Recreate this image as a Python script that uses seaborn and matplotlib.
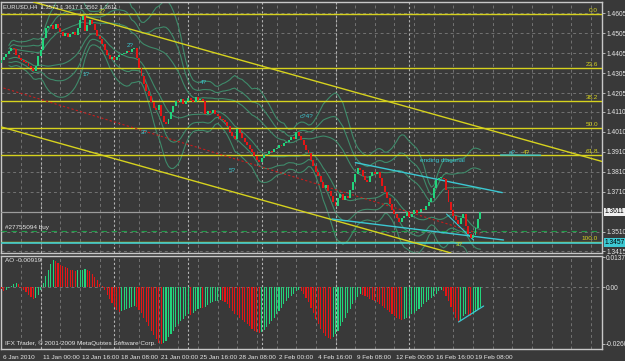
import numpy as np
import pandas as pd
import matplotlib
matplotlib.use("Agg")
import matplotlib.pyplot as plt
import matplotlib.transforms as mtrans
import seaborn as sns

# ---------------- data ----------------
close = [
    1.4370, 1.4385, 1.4400, 1.4415, 1.4430, 1.4425, 1.4395, 1.4380,
    1.4370, 1.4360, 1.4355, 1.4340, 1.4330, 1.4315,
    1.4340, 1.4390, 1.4420,
    1.4480, 1.4530, 1.4540,
    1.4545, 1.4525, 1.4550, 1.4530,
    1.4510, 1.4490, 1.4505, 1.4485, 1.4500, 1.4510, 1.4495,
    1.4530, 1.4570, 1.4590,
    1.4515,
    1.4545, 1.4570,
    1.4550, 1.4520, 1.4490, 1.4475,
    1.4450, 1.4420, 1.4395, 1.4375,
    1.4385, 1.4370, 1.4385, 1.4395,
    1.4400, 1.4405, 1.4415, 1.4410, 1.4425,
    1.4430,
    1.4380, 1.4330, 1.4290, 1.4250,
    1.4215, 1.4190, 1.4160, 1.4130,
    1.4120, 1.4145,
    1.4090, 1.4060, 1.4050, 1.4075,
    1.4110, 1.4140, 1.4165, 1.4160,
    1.4175, 1.4150, 1.4165, 1.4180, 1.4170, 1.4160, 1.4185, 1.4170, 1.4175, 1.4165,
    1.4100,
    1.4115, 1.4105, 1.4120, 1.4100, 1.4090, 1.4075, 1.4070, 1.4060,
    1.4040, 1.4010, 1.3990, 1.3975,
    1.4025, 1.4005,
    1.3980, 1.3960, 1.3945, 1.3925, 1.3910, 1.3890, 1.3870, 1.3860,
    1.3880, 1.3895, 1.3900, 1.3915, 1.3910, 1.3925, 1.3930, 1.3945,
    1.3940, 1.3955, 1.3960, 1.3970, 1.3985, 1.3975, 1.4010, 1.3990,
    1.3970, 1.3945, 1.3920, 1.3905,
    1.3870, 1.3840, 1.3810, 1.3790,
    1.3760, 1.3730, 1.3745, 1.3715, 1.3690, 1.3660,
    1.3640, 1.3680, 1.3700, 1.3670, 1.3690, 1.3680, 1.3720,
    1.3760, 1.3800, 1.3830, 1.3820,
    1.3790, 1.3770, 1.3760, 1.3790, 1.3810, 1.3800, 1.3810, 1.3780, 1.3740, 1.3710,
    1.3680, 1.3650, 1.3620, 1.3600, 1.3580, 1.3560, 1.3580,
    1.3590, 1.3610, 1.3585, 1.3600, 1.3620, 1.3605, 1.3610, 1.3625, 1.3620, 1.3640, 1.3660, 1.3680,
    1.3730, 1.3770, 1.3780,
    1.3780, 1.3775,
    1.3720, 1.3660, 1.3620,
    1.3590, 1.3570, 1.3550, 1.3580, 1.3600,
    1.3540, 1.3500, 1.3480,
    1.3495, 1.3530, 1.3573, 1.3611,
]
first_open = 1.4355

# Awesome Oscillator values (x 0.001)
ao_milli = [
    -1, -2, -1.5, -0.5,
    0.5, 1.5, 2, 1.5,
    -0.5,
    -1.5, -2.5, -3.5, -4.5, -5.5,
    -5, -3.5, -1.5,
    2, 5, 8, 10.5, 12.5,
    12, 11, 10, 9.5, 9, 8.5, 8, 7.8, 7.5,
    7.6, 7.8, 8, 8.2, 8, 7.5,
    6, 4.5, 3, 1.5, 0.3,
    -1.5, -3.5, -5.5, -7.5, -9, -10.5, -11.5,
    -11, -10.5, -10, -9.5, -9, -8.5, -9,
    -10.5, -12, -14, -16, -18, -20, -22, -24, -25.5, -26.08,
    -25.5, -24.5, -23, -21.5, -20, -18.5, -17, -15.5, -14.5, -13.5, -12.5, -12.8,
    -12, -11, -10, -9.5, -9.8, -9, -8.2, -7.5, -7, -6.5, -6.2, -6, -6.3,
    -7, -8, -9.5, -11, -12.5, -13, -14, -15, -16, -17, -18, -19, -20, -20.8, -21,
    -20.5, -19.5, -18.5, -17, -15.5, -14, -12.5, -11, -9.5, -8, -6.5, -5, -4, -3, -2, -1.2,
    -1.8, -3, -5, -7, -9.5, -12, -14.5, -17, -19, -21, -22.5, -23.5, -24,
    -23, -21.5, -20, -18, -16, -14, -12, -10, -8, -6, -4.5, -3.2,
    -3.5, -4, -4.8, -5.5, -6, -6.5, -7, -7.8, -8.5, -9.5, -10.5, -11.5, -12.5, -13.5,
    -14.2, -14.8, -15,
    -14.5, -14, -13.2, -12.5, -11.8, -11, -10, -9, -8, -7, -6, -5, -4, -3, -2, -1.2,
    -2, -4, -6.5, -9, -11.5, -14, -16, -15, -13.5, -12.5, -13, -13.2, -12.5, -11.5,
    -10.5, -9.19,
]

x_tick_bars = list(range(0, 241, 16))
x_tick_labels = ["6 Jan 2010", "11 Jan 00:00", "13 Jan 16:00", "18 Jan 08:00",
                 "21 Jan 00:00", "25 Jan 16:00", "28 Jan 08:00", "2 Feb 00:00",
                 "4 Feb 16:00", "9 Feb 08:00", "12 Feb 00:00", "16 Feb 16:00",
                 "19 Feb 08:00", "", "", ""]
x_grid_bars = list(range(0, 245, 8))
week_starts = [16, 46, 76, 106, 136, 166]
price_ticks = [1.4605, 1.4505, 1.4405, 1.4305, 1.4205, 1.4110, 1.4010,
               1.3910, 1.3810, 1.3710, 1.3510, 1.3415]
ao_ticks = [0.01373, 0.0, -0.02608]
ao_tick_labels = ["0.01373", "0.00", "-0.02608"]

fib_levels = [0.0, 23.6, 38.2, 50.0, 61.8, 100.0]
fib_high, fib_low = 1.4600, 1.3462
last_price = 1.3611
hline_price = 1.3457
order_price = 1.3515

# trend lines (bar index, price)
tl_upper_x, tl_upper_y = [13.0, 244.7], [1.4660, 1.3862]
tl_lower_x, tl_lower_y = [0.0, 183.0], [1.4035, 1.3405]
red_dot_x, red_dot_y = [0.8, 195.0], [1.4230, 1.3500]
cy_upper_x, cy_upper_y = [144.1, 203.9], [1.3857, 1.3707]
cy_lower_x, cy_lower_y = [134.6, 204.4], [1.3575, 1.3470]
cy_steep_x, cy_steep_y = [181.2, 192.2], [1.3600, 1.3470]
cy_short_x, cy_short_y = [203.2, 219.5], [1.3895, 1.3894]
ao_line_x, ao_line_y = [186.1, 196.3], [-0.0160, -0.0087]

# ---------------- style ----------------
sns.set_style("dark")
plt.rcParams["font.family"] = ["Liberation Sans", "DejaVu Sans"]
FS = 4.6
FS_Y = 4.8
FS_X = 4.6
FS_HDR = 4.2

BG = "#393939"
GRID = "#727272"
SEP = "#b4b4b4"
FRAME = "#c8c8c8"
TXT = "#e6e6e6"
YEL = "#d6d21e"
CYAN = "#3cc8d2"
BAND = "#3f8a6a"
BULL = "#22d47c"
BEAR = "#e41616"

n = len(close)
idx = np.arange(n)
c = np.array(close)
o = np.concatenate([[first_open], c[:-1]])

W, H = 625, 361
fig = plt.figure(figsize=(W / 100, H / 100), dpi=100, facecolor=BG)
ax = fig.add_axes([1 / W, 1 - 253 / H, 601 / W, 251 / H], facecolor=BG)
ax2 = fig.add_axes([1 / W, 1 - 349 / H, 601 / W, 93 / H], facecolor=BG)

XL = (-0.2, 244.5)
for a in (ax, ax2):
    a.set_xlim(*XL)
    for s in a.spines.values():
        s.set_color(FRAME)
        s.set_linewidth(1.0)
    a.set_xticks(x_tick_bars)
    a.grid(False)
    for gb in x_grid_bars:
        a.axvline(gb, color=GRID, linestyle=(0, (3, 3)), linewidth=0.7, zorder=1)
    for wb in week_starts:
        a.axvline(wb, color=SEP, linestyle=(0, (2, 2)), linewidth=0.8, zorder=1)
    a.yaxis.tick_right()
    a.tick_params(axis="y", length=2, width=0.6, colors=FRAME, labelcolor=TXT,
                  labelsize=FS_Y, pad=1)

ax.set_ylim(1.3405, 1.4660)
ax.set_yticks(price_ticks)
ax.set_yticklabels([f"{p:.4f}" for p in price_ticks])
ax.tick_params(axis="x", length=0, labelbottom=False)
ax.grid(True, axis="y", color=GRID, linestyle=(0, (3, 3)), linewidth=0.7)

# Bollinger-style envelopes computed from the closes
s = pd.Series(c)
mid = s.rolling(20, min_periods=4).mean()
sd = s.rolling(20, min_periods=4).std(ddof=0)
for k in (1, 2, 3):
    for sign in (1, -1):
        sns.lineplot(x=idx, y=(mid + sign * k * sd).values, ax=ax, color=BAND,
                     linewidth=0.8, legend=False, zorder=2)

# horizontal objects
blend = mtrans.blended_transform_factory(ax.transAxes, ax.transData)
fib_prices = [fib_high - (fib_high - fib_low) * lv / 100 for lv in fib_levels]
for lv, fp in zip(fib_levels, fib_prices):
    ax.axhline(fp, color=YEL, linewidth=1.0, zorder=3)
    ax.text(0.9935, fp + 0.0003, f"{lv:.1f}", transform=blend,
            ha="right", va="bottom", color=YEL, fontsize=FS)
ax.axhline(last_price, color="#9c9c9c", linewidth=0.9, zorder=3)
ax.axhline(hline_price, color=CYAN, linewidth=1.2, zorder=3)
ax.axhline(order_price, color="#1f9a48", linewidth=0.8, linestyle=(0, (5, 4)), zorder=3)
ax.text(0.007, order_price + 0.0003, "#27755094 buy", transform=blend, ha="left",
        va="bottom", color=TXT, fontsize=FS)

# trend lines
for xs, ys, col, ls, lw in [
    (tl_upper_x, tl_upper_y, YEL, "-", 1.0),
    (tl_lower_x, tl_lower_y, YEL, "-", 1.0),
    (red_dot_x, red_dot_y, "#c81c1c", (0, (2, 2)), 0.8),
    (cy_upper_x, cy_upper_y, CYAN, "-", 1.0),
    (cy_lower_x, cy_lower_y, CYAN, "-", 1.0),
    (cy_steep_x, cy_steep_y, CYAN, "-", 0.8),
    (cy_short_x, cy_short_y, CYAN, "-", 1.0),
]:
    sns.lineplot(x=xs, y=ys, ax=ax, color=col, linestyle=ls, linewidth=lw,
                 legend=False, zorder=4)

# candles
bull = c >= o
body = c - o
body = np.where(np.abs(body) < 0.0003, np.where(bull, 0.0003, -0.0003), body)
ax.bar(idx, body, bottom=o, width=0.8, color=np.where(bull, BULL, BEAR),
       linewidth=0, zorder=5)

# wave labels
for tx, ty, t, col in [
    (52.6, 1.4445, "2?", CYAN), (34.3, 1.4300, "1?", CYAN), (58.3, 1.4010, "3?", CYAN),
    (82.3, 1.4255, "4?", CYAN), (94.1, 1.3815, "5?", CYAN), (124.1, 1.4085, "c?4?", CYAN),
    (179.4, 1.3868, "ending diagonal", CYAN), (186.3, 1.3450, "3?", YEL),
    (41.0, 1.4612, "2?", YEL), (207.9, 1.3910, "a?", CYAN), (213.6, 1.3910, "4?", YEL),
]:
    ax.text(tx, ty, t, color=col, fontsize=FS, ha="center", va="center", zorder=6)

ax.text(0.004, 0.99, "EURUSD,H4  1.3573 1.3617 1.3562 1.3611", transform=ax.transAxes,
        ha="left", va="top", color=TXT, fontsize=FS_HDR, zorder=7)

# price boxes
ax.text(1.004, last_price, f"{last_price:.4f}", transform=blend, ha="left", va="center",
        color="black", fontsize=FS_Y, clip_on=False,
        bbox=dict(facecolor="#f0f0f0", edgecolor="none", pad=0.5))
ax.text(1.004, hline_price, f"{hline_price:.4f}", transform=blend, ha="left", va="center",
        color="black", fontsize=FS_Y, clip_on=False,
        bbox=dict(facecolor=CYAN, edgecolor="none", pad=0.5))

# ---------------- AO panel ----------------
ao = np.array(ao_milli) / 1000.0
ao_prev = np.concatenate([[ao[0]], ao[:-1]])
ao_col = np.where(ao > ao_prev, BULL, BEAR)
ax2.set_ylim(-0.02838, 0.01419)
ax2.bar(idx, ao, width=0.45, color=ao_col, linewidth=0, zorder=5)
sns.lineplot(x=ao_line_x, y=ao_line_y, ax=ax2, color=CYAN, linewidth=0.9, legend=False, zorder=6)
ax2.set_yticks(ao_ticks)
ax2.set_yticklabels(ao_tick_labels)
ax2.axhline(0, color=GRID, linestyle=(0, (3, 3)), linewidth=0.7, zorder=1)
ax2.set_xticklabels(x_tick_labels)
ax2.tick_params(axis="x", length=3, width=0.6, colors=FRAME, labelcolor=TXT,
                labelsize=FS_X, pad=1)
off = mtrans.ScaledTranslation(2 / 100, 0, fig.dpi_scale_trans)
for lbl in ax2.get_xticklabels():
    lbl.set_ha("left")
    lbl.set_transform(lbl.get_transform() + off)
ax2.text(0.006, 0.975, "AO -0.00919", transform=ax2.transAxes, ha="left", va="top",
         color=TXT, fontsize=FS)
ax2.text(0.006, 0.03, "IFX Trader, \u00a9 2001-2009 MetaQuotes Software Corp.",
         transform=ax2.transAxes, ha="left", va="bottom", color=TXT, fontsize=FS)
for a in (ax, ax2):
    a.set_xlabel("")
    a.set_ylabel("")

fig.savefig("out.png", dpi=100, facecolor=BG)
